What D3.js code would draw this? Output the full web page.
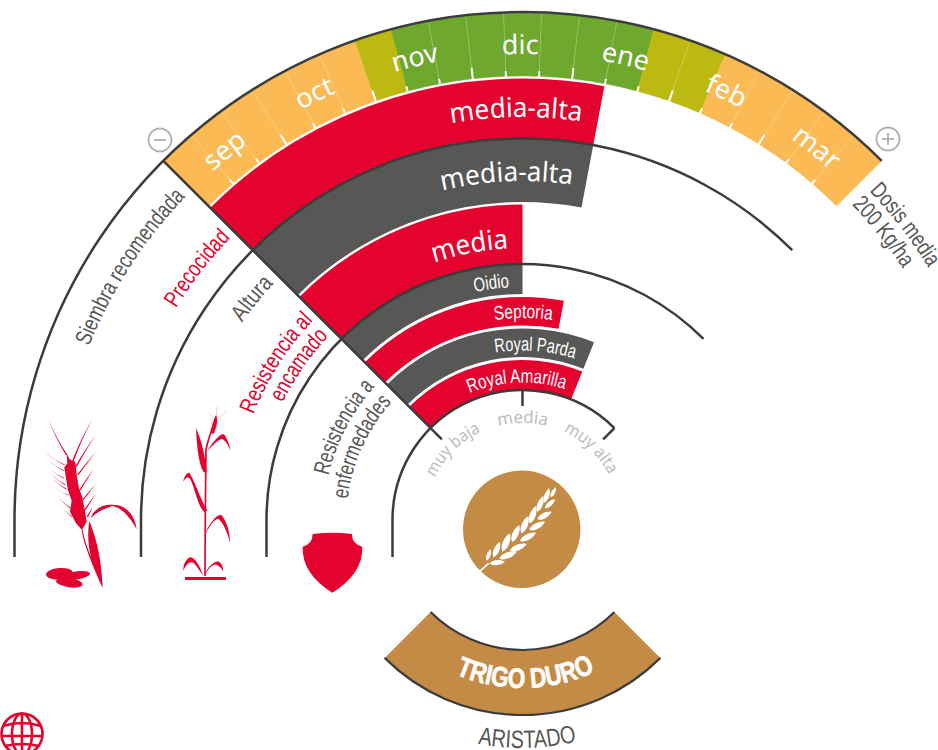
<!DOCTYPE html>
<html>
<head>
<meta charset="utf-8">
<script src="https://cdn.jsdelivr.net/npm/d3@7"></script>
<style>
  html, body { margin: 0; padding: 0; background: #fff; }
  svg { display: block; }
  .wide { font-family: "Noto Sans", sans-serif; }
  .narrow { font-family: "Liberation Sans", sans-serif; }
</style>
</head>
<body>
<div id="my_dataviz"></div>
<script>
// chart values
const months = ["sep", "oct", "nov", "dic", "ene", "feb", "mar"];
// one entry per ten day period, 0 = dose below, 1 = near, 2 = recommended
const sowingLevels = [0,0,0,0,0,0, 1, 2,2,2,2,2,2,2, 1,1, 0,0,0,0,0];
const traitNames = ["Precocidad", "Altura", "Encamado"];
const traitLabels = ["media-alta", "media-alta", "media"];
const traitValues = [4.95, 4.95, 4];
const diseaseNames = ["Oidio", "Septoria", "Royal Parda", "Royal Amarilla"];
const diseaseValues = [4, 4.95, 5.95, 5.95];
const scaleLabels = ["muy baja", "media", "muy alta"];
const scaleTicks = [0, 4, 8];

const width = 938;
const height = 750;
const cx = 522.5;
const cy = 520;

const RED = "#e4032e", GREY = "#575756", LINE = "#3c3c3b", TAN = "#c38b45", LIGHT = "#bdbcbc";
const sowingColors = ["#fbba54", "#bcb911", "#6ea92d"];

const svg = d3.select("#my_dataviz")
  .append("svg")
  .attr("width", width)
  .attr("height", height);

const defs = svg.append("defs");
const chart = svg.append("g").attr("transform", `translate(${cx},${cy})`);

const rad = d => d * Math.PI / 180;
const polar = (r, deg) => [r * Math.sin(rad(deg)), -r * Math.cos(rad(deg))];

// angle scales
const level = d3.scaleLinear().domain([0, 8]).range([-45, 45]);
const period = d3.scaleLinear().domain([0, sowingLevels.length]).range([-45, 45]);

const arc = d3.arc();

// ten day band
chart.append("g").selectAll("path")
  .data(sowingLevels)
  .join("path")
  .attr("d", (d, i) => arc({ innerRadius: 444, outerRadius: 507, startAngle: rad(period(i)), endAngle: rad(period(i + 1)) }))
  .attr("fill", d => sowingColors[d])
  .attr("stroke", d => sowingColors[d])
  .attr("stroke-width", 0.4);

// thin divisions and the ticks on the inner edge
const divisions = d3.range(1, sowingLevels.length);
chart.append("g").selectAll("line")
  .data(divisions)
  .join("line")
  .attr("x1", d => polar(444, period(d))[0])
  .attr("y1", d => polar(444, period(d))[1])
  .attr("x2", d => polar(506, period(d))[0])
  .attr("y2", d => polar(506, period(d))[1])
  .attr("stroke", "#fff")
  .attr("stroke-opacity", d => (d === 6 || d === 7 || d === 14 || d === 16) ? 0 : 0.3)
  .attr("stroke-width", 0.7);

chart.append("g").selectAll("line")
  .data(divisions)
  .join("line")
  .attr("x1", d => polar(443, period(d))[0])
  .attr("y1", d => polar(443, period(d))[1])
  .attr("x2", d => polar(d % 3 === 0 ? 455 : 449, period(d))[0])
  .attr("y2", d => polar(d % 3 === 0 ? 455 : 449, period(d))[1])
  .attr("stroke", "#fff")
  .attr("stroke-width", 2);

// bands
const traitRadii = [[382, 441.5], [318, 382], [256, 315.5]];
const diseaseRadii = [[226, 256], [194.5, 223], [163, 191.5], [130, 160]];

function bands(values, radii, colorOf) {
  chart.append("g").selectAll("path")
    .data(values)
    .join("path")
    .attr("d", (d, i) => arc({ innerRadius: radii[i][0], outerRadius: radii[i][1], startAngle: rad(-45), endAngle: rad(level(d)) }))
    .attr("fill", (d, i) => colorOf(i));
}
bands(traitValues, traitRadii, i => i % 2 ? GREY : RED);
bands(diseaseValues, diseaseRadii, i => i % 2 ? RED : GREY);

// curved text along a circle of radius r, anchored at an angle.
// len squeezes the letters, the narrow face of the original is not installed
let pathCount = 0;
function curved(str, r, deg, opts) {
  const o = Object.assign({ anchor: "middle", size: 20, fill: "#fff", cls: "narrow", weight: 400 }, opts);
  const id = "tp" + (pathCount++);
  const p = d3.path();
  let startDeg = deg;
  if (o.len) {
    const lenDeg = o.len / r * 180 / Math.PI;
    if (o.anchor === "middle") startDeg = deg - lenDeg / 2;
    if (o.anchor === "end") startDeg = deg - lenDeg;
  }
  let offset;
  if (o.bottom) {
    // runs anticlockwise round the underside, letters pointing to the centre
    p.arc(0, 0, r, rad(170), rad(10), true);
    offset = rad(80 + startDeg) * r;
  } else {
    p.arc(0, 0, r, rad(-190), rad(10));
    offset = rad(startDeg + 100) * r;
  }
  defs.append("path").attr("id", id).attr("d", p.toString());
  const t = chart.append("text")
    .attr("class", o.cls)
    .attr("font-size", o.size)
    .attr("font-weight", o.weight)
    .attr("fill", o.fill);
  if (o.heavy) t.attr("stroke", o.fill).attr("stroke-width", o.heavy);
  const tp = t.append("textPath")
    .attr("href", "#" + id)
    .attr("startOffset", offset)
    .attr("text-anchor", o.len ? "start" : o.anchor)
    .text(str);
  if (o.len) tp.attr("textLength", o.len).attr("lengthAdjust", "spacingAndGlyphs");
}

// month names
months.forEach((m, i) => {
  curved(m, 466, period(i * 3 + 1.5) - 0.3, { size: 27, cls: "wide" });
});

// band labels
const traitLabelRadii = [403, 339, 272];
const traitLabelLens = [131, 131, 76];
traitLabels.forEach((t, i) => {
  curved(t, traitLabelRadii[i], level(traitValues[i]) - (i < 2 ? 2.3 : 3), { anchor: "end", size: 27.5, cls: "wide", len: traitLabelLens[i] });
});
const diseaseLabelRadii = [233, 202, 169.5, 137.5];
const diseaseLabelLens = [35, 58, 80, 97];
const diseaseLabelGaps = [3.3, 2.3, 4.2, 4.2];
diseaseNames.forEach((t, i) => {
  curved(t, diseaseLabelRadii[i], level(diseaseValues[i]) - diseaseLabelGaps[i], { anchor: "end", size: 19.5, len: diseaseLabelLens[i] });
});

// main lines
const outline = chart.append("g").attr("fill", "none").attr("stroke", LINE).attr("stroke-width", 2.5);
[508, 381.5, 256, 130].forEach(r => {
  const p = d3.path();
  p.moveTo(-r, 37);
  p.lineTo(-r, 0);
  p.arc(0, 0, r, Math.PI, 1.75 * Math.PI);
  outline.append("path").attr("d", p.toString());
});
outline.append("line")
  .attr("x1", polar(509, -45)[0]).attr("y1", polar(509, -45)[1])
  .attr("x2", polar(114, -45)[0]).attr("y2", polar(114, -45)[1]);
scaleTicks.slice(1).forEach(t => {
  outline.append("line")
    .attr("x1", polar(130, level(t))[0]).attr("y1", polar(130, level(t))[1])
    .attr("x2", polar(114, level(t))[0]).attr("y2", polar(114, level(t))[1]);
});

// scale labels
curved(scaleLabels[0], 97.5, level(scaleTicks[0]) + 0.2, { size: 17, fill: LIGHT, cls: "wide", len: 66 });
curved(scaleLabels[1], 97, level(scaleTicks[1]), { size: 17, fill: LIGHT, cls: "wide", len: 49 });
curved(scaleLabels[2], 97.5, level(scaleTicks[2]) - 1.5, { size: 17, fill: LIGHT, cls: "wide", len: 64 });

// side labels
curved("Siembra recomendada", 467, -46.2, { anchor: "end", size: 23, fill: GREY, len: 179 });
curved("Precocidad", 406, -46, { anchor: "end", size: 23, fill: RED, len: 89 });
curved("Altura", 343, -46.5, { anchor: "end", size: 23, fill: GREY, len: 50 });
curved("Resistencia al", 289, -46.4, { anchor: "end", size: 23, fill: RED, len: 112 });
curved("encamado", 267, -46.6, { anchor: "end", size: 23, fill: RED, len: 81 });
curved("Resistencia a", 199, -48, { anchor: "end", size: 23, fill: GREY, len: 101 });
curved("enfermedades", 176, -48, { anchor: "end", size: 23, fill: GREY, len: 108 });
curved("Dosis media", 478, 46.5, { anchor: "start", size: 23, fill: GREY, len: 97 });
curved("200 Kg/ha", 456, 46.2, { anchor: "start", size: 23, fill: GREY, len: 82 });

// +/- marks
[[-1, 160, 140], [1, 888, 139]].forEach(m => {
  const g = svg.append("g").attr("transform", `translate(${m[1]},${m[2]})`)
    .attr("stroke", "#b2b2b2").attr("fill", "none");
  g.append("circle").attr("r", 11.5).attr("stroke-width", 1.8);
  g.append("line").attr("x1", -6).attr("x2", 6).attr("stroke-width", 1.8);
  if (m[0] > 0) g.append("line").attr("y1", -6).attr("y2", 6).attr("stroke-width", 1.8);
});

// crop sector at the bottom
chart.append("path")
  .attr("d", arc({ innerRadius: 130, outerRadius: 195, startAngle: rad(135), endAngle: rad(225) }))
  .attr("fill", TAN);
[130, 195].forEach(r => {
  const p = d3.path();
  p.arc(0, 0, r, rad(45), rad(135));
  chart.append("path").attr("d", p.toString()).attr("fill", "none").attr("stroke", LINE).attr("stroke-width", 2.2);
});
curved("TRIGO DURO", 168, 1, { bottom: true, size: 28, weight: 700, len: 144, heavy: 0.7 });
curved("ARISTADO", 228, 1.2, { bottom: true, size: 25, fill: GREY, len: 100 });

// crop badge
svg.append("circle").attr("cx", 521.7).attr("cy", 529.3).attr("r", 58.7).attr("fill", TAN);

// almond shape from base to tip
function leaf(b) {
  const dx = b[2] - b[0], dy = b[3] - b[1];
  const w = 0.22, nx = -dy * w, ny = dx * w;
  const p = d3.path();
  p.moveTo(b[0], b[1]);
  p.bezierCurveTo(b[0] + dx * 0.2 + nx, b[1] + dy * 0.2 + ny, b[0] + dx * 0.7 + nx, b[1] + dy * 0.7 + ny, b[2], b[3]);
  p.bezierCurveTo(b[0] + dx * 0.7 - nx, b[1] + dy * 0.7 - ny, b[0] + dx * 0.2 - nx, b[1] + dy * 0.2 - ny, b[0], b[1]);
  return p.toString();
}
const wheat = svg.append("g").attr("transform", "translate(460,480) scale(0.3333)");
wheat.append("path").attr("d", "M55,278L86,250").attr("stroke", "#fff").attr("stroke-width", 5);
const upperGrains = [[80,242,92,208],[100,232,120,186],[127,215,150,160],[156,186,178,135],[184,160,205,108],[209,130,228,78],[232,95,250,48],[253,68,268,25],[272,52,288,22]];
const lowerGrains = [[88,250,135,245],[118,236,170,215],[150,212,200,192],[180,183,228,158],[208,150,255,125],[232,118,275,95],[255,85,285,58]];
wheat.append("g").attr("fill", "#fff")
  .selectAll("path")
  .data(upperGrains.concat(lowerGrains))
  .join("path")
  .attr("d", leaf);

// plant drawings, traced in a 3x frame
const icons = svg.append("g").attr("transform", "translate(0,400) scale(0.3333)").attr("fill", RED);

// ear of wheat with leaves
const ear = svg.append("g").attr("transform", "translate(30,410) scale(0.3333)").attr("fill", RED);
ear.append("path").attr("d", "M110,130L118,146L126,152L136,155L140,195L147,235L157,262L166,310L170,335L156,360L138,340L120,305L125,272L114,240L108,205L103,172L112,160Z");
// awns taper to a point
const awns = [[110,135,55,25,-8],[104,165,37,122,-4],[102,182,48,148,-3],[102,205,58,177,-3],[106,225,60,190,-3],[110,238,65,205,-3],[116,256,70,230,-3],[122,295,85,262,-3],[126,320,102,297,-2],
  [128,155,188,25,-8],[138,170,197,75,-6],[143,195,197,125,-4],[150,240,193,175,-5],[158,270,198,222,-4],[165,300,198,250,-4],[172,320,188,290,-2]];
ear.append("g").selectAll("path")
  .data(awns)
  .join("path")
  .attr("d", d => {
    const mx = (d[0] + d[2]) / 2 + d[4], my = (d[1] + d[3]) / 2 + 2;
    const p = d3.path();
    p.moveTo(d[0] - 2.5, d[1]);
    p.quadraticCurveTo(mx, my, d[2], d[3]);
    p.quadraticCurveTo(mx + 3, my + 2, d[0] + 2.5, d[1]);
    p.closePath();
    return p.toString();
  });
icons.append("path").attr("d", "M245,390C250,430 275,490 308,565C305,490 295,430 268,362C262,400 265,440 273,470C262,445 252,415 248,390Z");
icons.append("path").attr("d", "M272,355C282,325 310,312 340,315C375,312 405,345 410,388C395,360 370,325 338,318C315,325 290,335 272,355Z");
icons.append("ellipse").attr("cx", 178).attr("cy", 521).attr("rx", 40).attr("ry", 17).attr("transform", "rotate(-5 178 521)");
icons.append("ellipse").attr("cx", 232).attr("cy", 526).attr("rx", 38).attr("ry", 12).attr("transform", "rotate(-8 232 526)");
icons.append("ellipse").attr("cx", 208).attr("cy", 548).attr("rx", 40).attr("ry", 14).attr("transform", "rotate(8 208 548)");

// tall plant
icons.append("rect").attr("x", 555).attr("y", 531).attr("width", 123).attr("height", 9);
icons.append("path").attr("d", "M615,528L616,340L618,150C622,125 632,100 640,75").attr("fill", "none").attr("stroke", RED).attr("stroke-width", 5);
icons.append("path").attr("d", "M610,528C600,500 585,470 570,472C555,480 550,495 550,512C560,490 572,482 582,490C592,500 600,515 610,528Z");
icons.append("path").attr("d", "M612,528C620,505 640,485 655,484C665,490 670,500 670,515C662,498 650,492 640,495C628,502 620,515 612,528Z");
icons.append("path").attr("d", "M613,408C625,375 650,340 665,346C680,365 690,395 690,428C682,395 668,365 655,356C640,358 625,385 613,408Z");
icons.append("path").attr("d", "M622,332C600,295 588,250 568,218C558,218 552,232 550,245C558,232 565,228 572,240C585,265 592,315 612,335Z");
icons.append("path").attr("d", "M620,218C618,180 605,120 588,85C590,130 595,190 610,215Z");
icons.append("path").attr("d", "M622,152C640,125 660,100 672,103C682,115 688,135 692,152C682,130 675,120 665,116C650,122 635,140 622,152Z");
icons.append("path").attr("d", "M632,100C635,80 640,60 648,45C655,60 650,85 640,102Z");
icons.append("g").attr("fill", "none").attr("stroke", RED).attr("stroke-width", 1).attr("stroke-opacity", 0.6)
  .selectAll("path")
  .data(["M648,60L652,20", "M650,60L678,35", "M646,65L630,40", "M646,75L665,55", "M640,85L632,60"])
  .join("path").attr("d", d => d);

// shield
icons.append("path").attr("d", "M938,402Q1000,394 1056,402Q1056,432 1087,440Q1090,520 997,578Q905,520 908,440Q938,432 938,402Z");

// globe at the corner
const globe = svg.append("g").attr("transform", "translate(22,734)").attr("fill", "none").attr("stroke", RED).attr("stroke-width", 2.6);
globe.append("circle").attr("r", 20.5);
globe.append("ellipse").attr("rx", 10).attr("ry", 20.5);
globe.append("path").attr("d", "M-19,-8Q0,-14 19,-8M-20.5,2L20.5,2M-17,12Q0,8 17,12M0,-20L0,20");
</script>
</body>
</html>
